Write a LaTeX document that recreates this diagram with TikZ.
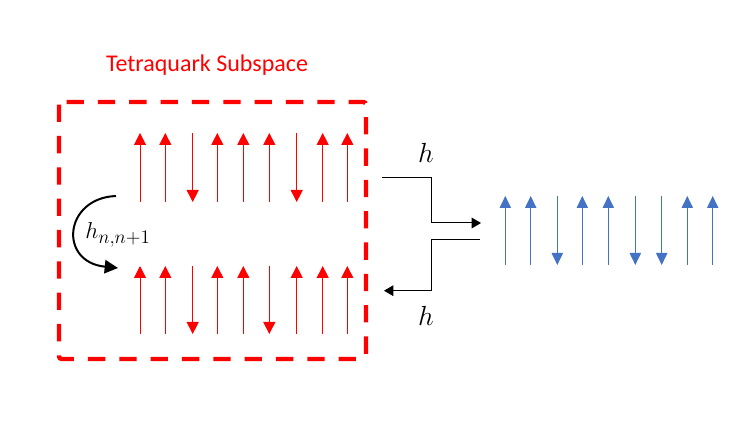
\documentclass[tikz,border=0pt]{standalone}
\usepackage{fontspec}
\newfontfamily\calib{Carlito}
\usetikzlibrary{arrows.meta}
\DeclareMathSizes{19}{19}{15}{12}
\DeclareMathSizes{22}{22}{16}{12}
\definecolor{spinred}{HTML}{FF0000}
\definecolor{spinblue}{HTML}{4472C4}
\tikzset{
  upred/.style={draw=spinred, line width=0.75pt, -{Triangle[width=9pt,length=9pt]}},
  upblue/.style={draw=spinblue, line width=0.75pt, -{Triangle[width=8.5pt,length=9pt]}},
  hop/.style={draw=black, line width=0.75pt, -{Triangle[width=8pt,length=7pt]}},
  lbl/.style={inner sep=0pt, font=\fontsize{19}{22}\selectfont},
  hlbl/.style={inner sep=0pt, font=\fontsize{22}{26}\selectfont}
}
\begin{document}
\begin{tikzpicture}[x=0.75pt,y=-0.75pt]
\useasboundingbox (0,0) rectangle (752,423);
% title
\node[text=spinred, font=\calib\fontsize{18}{22}\selectfont] (title) at (207,65) {Tetraquark Subspace};
% dashed box
\draw[spinred, line width=3.3pt, dash pattern=on 13pt off 10.5pt, rounded corners=2pt] (59,102) rectangle (366,359);
% top row spins: up up down up up up down up up
\foreach \x/\d [count=\i] in {140/1,165.3/1,192.7/0,217.3/1,243.3/1,269.3/1,296.7/0,322.7/1,347.3/1}{
  \coordinate (ta\i) at (\x,202);
  \coordinate (tb\i) at (\x,133);
  \ifnum\d=1 \draw[upred] (ta\i) -- (tb\i); \else \draw[upred] (tb\i) -- (ta\i); \fi
}
% bottom row: up up down up up down up up up
\foreach \x/\d [count=\i] in {140/1,165.3/1,192.7/0,217.3/1,243.3/1,269.3/0,296.7/1,322.7/1,347.3/1}{
  \coordinate (ba\i) at (\x,334);
  \coordinate (bb\i) at (\x,266);
  \ifnum\d=1 \draw[upred] (ba\i) -- (bb\i); \else \draw[upred] (bb\i) -- (ba\i); \fi
}
% blue row: up up down up up down down up up
\foreach \x/\d [count=\i] in {505.3/1,530.7/1,557.3/0,582.3/1,608.3/1,635.3/0,661.7/0,687.3/1,712.7/1}{
  \coordinate (ca\i) at (\x,265);
  \coordinate (cb\i) at (\x,196);
  \ifnum\d=1 \draw[upblue] (ca\i) -- (cb\i); \else \draw[upblue] (cb\i) -- (ca\i); \fi
}
% curved arrow
\coordinate (cs) at (116,196);
\coordinate (ce) at (118,268);
\draw[line width=1.5pt, -{Triangle[width=10pt,length=10pt]}] (cs) .. controls (64,198) and (58,262) .. (ce);
\node[lbl] (hnn) at (118,235) {$h_{n,n+1}$};
% connectors
\coordinate (o1) at (382,178);
\coordinate (e1) at (481,223);
\draw[hop] (o1) -| (431.7,223) -- (e1);
\coordinate (o2) at (480,240);
\coordinate (e2) at (384,290.7);
\draw[hop] (o2) -| (431.7,290.7) -- (e2);
\node[hlbl] (h1) at (426,153) {$h$};
\node[hlbl] (h2) at (426,316) {$h$};
\end{tikzpicture}
\end{document}
